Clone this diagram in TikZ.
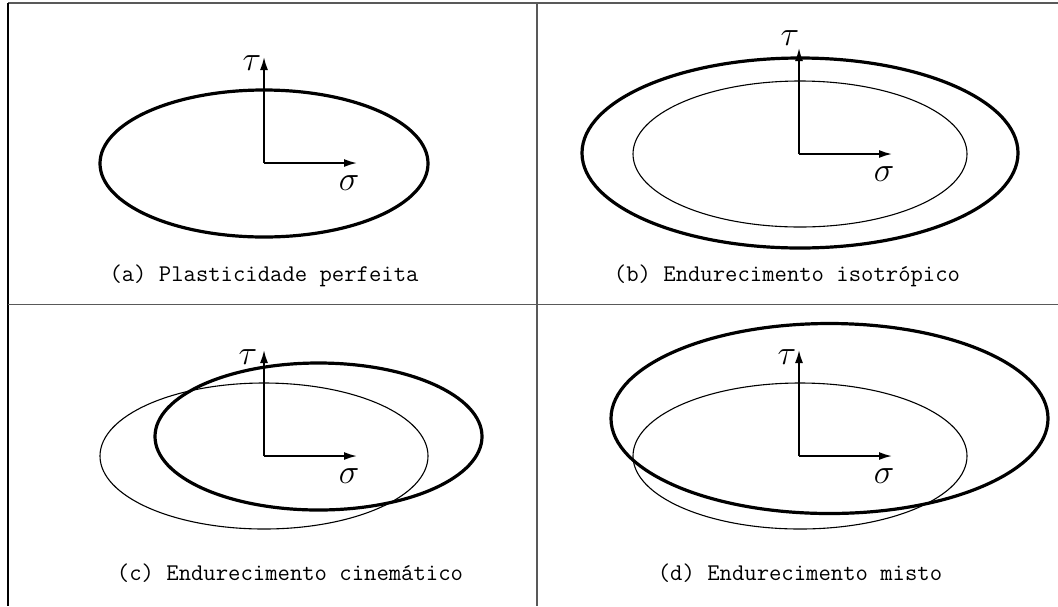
\documentclass[tikz,border=0pt]{standalone}
\usepackage{tikz}
\usetikzlibrary{arrows.meta}

\begin{document}
\begin{tikzpicture}[
  x=0.5pt, y=-0.5pt,
  frame/.style={draw=black!65, line width=0.9pt},
  axis/.style={draw=black, line width=0.85pt, -{Latex[length=6.5pt, width=4pt]}},
  yieldold/.style={draw=black, line width=0.55pt},
  yieldnew/.style={draw=black, line width=1.6pt},
  axlbl/.style={inner sep=0, font=\fontsize{16}{18}\selectfont},
  caption/.style={inner sep=0, font=\fontsize{12}{14}\selectfont\ttfamily},
]
  \useasboundingbox (0,0) rectangle (1058,606);

  % --- panel frame ---
  \draw[frame] (1058,3) -- (8,3);
  \draw[frame, draw=black] (8,3) -- (8,606);
  \draw[frame] (8,304.5) -- (1058,304.5);
  \draw[frame] (537,3) -- (537,606);

  % --- yield surfaces ---
  % (a) perfect plasticity
  \draw[yieldnew] (264,163.5) ellipse [x radius=164, y radius=73.5];
  % (b) isotropic: same centre, grown
  \draw[yieldold] (800,154) ellipse [x radius=167, y radius=73];
  \draw[yieldnew] (800,153) ellipse [x radius=218, y radius=95];
  % (c) kinematic: same size, shifted
  \draw[yieldold] (264,456) ellipse [x radius=164, y radius=73];
  \draw[yieldnew] (318.5,436.5) ellipse [x radius=163.5, y radius=73.5];
  % (d) mixed: shifted and grown
  \draw[yieldold] (800,456) ellipse [x radius=167, y radius=73];
  \draw[yieldnew] (829.5,418.5) ellipse [x radius=218.5, y radius=95];

  % --- stress axes ---
  \foreach \n/\ox/\oy/\tx/\ty in {a/264/163/-12/-100, b/799/154/-9/-116,
                                  c/264/456/-16/-99, d/799/456/-12/-99}{
    \coordinate (o\n) at (\ox,\oy);
    \coordinate (t\n) at (\ox,\oy-106);
    \coordinate (s\n) at (\ox+93,\oy);
    \draw[axis] (o\n) -- (t\n);
    \draw[axis] (o\n) -- (s\n);
    \node[axlbl] (tau\n) at (\ox+\tx,\oy+\ty) {$\tau$};
    \node[axlbl] (sig\n) at (\ox+85,\oy+20) {$\sigma$};
  }

  % --- captions ---
  \node[caption] (capa) at (264,276) {(a) Plasticidade perfeita};
  \node[caption] (capb) at (787,276) {(b) Endurecimento isotrópico};
  \node[caption] (capc) at (290,573) {(c) Endurecimento cinemático};
  \node[caption] (capd) at (800,573) {(d) Endurecimento misto};
\end{tikzpicture}
\end{document}
